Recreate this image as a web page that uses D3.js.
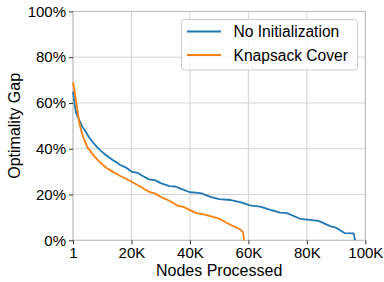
<!DOCTYPE html>
<html><head><meta charset="utf-8">
<script src="https://cdn.jsdelivr.net/npm/d3@7"></script>
<style>body{margin:0;background:#fff}svg{display:block}text{font-family:"Liberation Sans",Arial,sans-serif;fill:#000}</style>
</head><body>
<script>
const seriesNames = ["No Initialization", "Knapsack Cover"];
const colors = ["#1f77b4", "#ff7f0e"];
const xTicks = [1, 20000, 40000, 60000, 80000, 100000];
const xTickLabels = ["1", "20K", "40K", "60K", "80K", "100K"];
const yTicks = [0, 20, 40, 60, 80, 100];
const yTickLabels = ["0%", "20%", "40%", "60%", "80%", "100%"];

const noInitNodes = [1,500,1000,1600,2400,3200,4000,5000,5800,7000,8000,9200,10500,12000,13700,15000,16000,17800,19000,20000,22000,24000,26000,28000,30000,33000,35000,37000,40000,42000,44000,47000,50000,54000,57500,60600,64000,67000,70800,73000,77700,81000,84000,88000,90000,93000,96000,96500];
const noInitGap = [65,60,56,54,51.8,49.5,48.2,46,44.5,42.5,41,39.5,38,36.5,35,34,33,32,31,30,29.5,28,26.6,26.3,25,23.7,23.5,22.5,21,20.8,20.5,19,18,17.6,16.6,15.3,14.7,13.5,12.1,12,9.4,8.9,8.5,6.2,5.5,3.1,3,0];

const kcNodes = [1,400,900,1500,2200,3000,3800,5000,6500,8000,10000,11500,13500,16000,18000,20000,23000,26000,28000,30000,33000,36000,38000,40000,42000,44000,47000,50000,52000,54000,56000,57500,58200,58500];
const kcGap = [69,66,62,57,51,47,44,40.5,38,35.7,33.2,31.6,30,28.2,27,25.6,23.5,21.2,20.5,19,17.3,15,14.5,13.2,12,11.5,10.6,9.5,8,6.7,5.5,4.5,3.5,0];

const W = 384, H = 282;
const m = {left: 73, right: 384 - 365.3, top: 11.4, bottom: 282 - 240.3};
const svg = d3.select("body").append("svg").attr("width", W).attr("height", H);
const x = d3.scaleLinear().domain([0, 100000]).range([m.left, W - m.right]);
const y = d3.scaleLinear().domain([0, 100]).range([H - m.bottom, m.top]);

// grid
const g = svg.append("g");
g.selectAll(".gx").data(xTicks).enter().append("line")
  .attr("x1", d => x(d === 1 ? 0 : d)).attr("x2", d => x(d === 1 ? 0 : d))
  .attr("y1", y(0)).attr("y2", y(100)).attr("stroke", "#d4d4d4").attr("stroke-width", 1);
g.selectAll(".gy").data(yTicks).enter().append("line")
  .attr("x1", x(0)).attr("x2", x(100000))
  .attr("y1", d => y(d)).attr("y2", d => y(d)).attr("stroke", "#d4d4d4").attr("stroke-width", 1);

// frame
svg.append("rect").attr("x", x(0)).attr("y", y(100)).attr("width", x(100000) - x(0)).attr("height", y(0) - y(100))
  .attr("fill", "none").attr("stroke", "#bdbdbd").attr("stroke-width", 1);

// axes
const xAxis = d3.axisBottom(x).tickValues(xTicks.map(d => d === 1 ? 0 : d))
  .tickFormat((d, i) => xTickLabels[i]).tickSize(4).tickPadding(3);
const gx = svg.append("g").attr("transform", `translate(0,${y(0)})`).call(xAxis);
gx.select(".domain").remove();
gx.selectAll(".tick line").attr("stroke", "#333");
gx.selectAll(".tick text").attr("font-size", 15).style("font-family", "Liberation Sans, Arial, sans-serif");

const yAxis = d3.axisLeft(y).tickValues(yTicks).tickFormat((d, i) => yTickLabels[i]).tickSize(4).tickPadding(3);
const gy = svg.append("g").attr("transform", `translate(${x(0)},0)`).call(yAxis);
gy.select(".domain").remove();
gy.selectAll(".tick line").attr("stroke", "#333");
gy.selectAll(".tick text").attr("font-size", 15).style("font-family", "Liberation Sans, Arial, sans-serif");

// lines
const line = d3.line().x(d => x(d[0])).y(d => y(d[1]));
const data = [d3.zip(noInitNodes, noInitGap), d3.zip(kcNodes, kcGap)];
data.forEach((d, i) => {
  svg.append("path").datum(d).attr("d", line).attr("fill", "none")
    .attr("stroke", colors[i]).attr("stroke-width", 1.8).attr("stroke-linejoin", "round");
});

// axis titles
svg.append("text").attr("x", (x(0) + x(100000)) / 2).attr("y", 276).attr("text-anchor", "middle")
  .attr("font-size", 16).text("Nodes Processed");
svg.append("text").attr("transform", `translate(19.5,${(y(0) + y(100)) / 2}) rotate(-90)`)
  .attr("text-anchor", "middle").attr("font-size", 16).text("Optimality Gap");

// legend
const lg = svg.append("g");
lg.append("rect").attr("x", 181.5).attr("y", 19.5).attr("width", 176).attr("height", 50.5).attr("rx", 3)
  .attr("fill", "rgba(255,255,255,0.8)").attr("stroke", "#cccccc").attr("stroke-width", 1);
seriesNames.forEach((n, i) => {
  const yy = 31.5 + i * 23.5;
  lg.append("line").attr("x1", 187).attr("x2", 221).attr("y1", yy).attr("y2", yy)
    .attr("stroke", colors[i]).attr("stroke-width", 1.8);
  lg.append("text").attr("x", 233.5).attr("y", yy + 5.5).attr("font-size", 15.6).text(n);
});
</script>
</body></html>
